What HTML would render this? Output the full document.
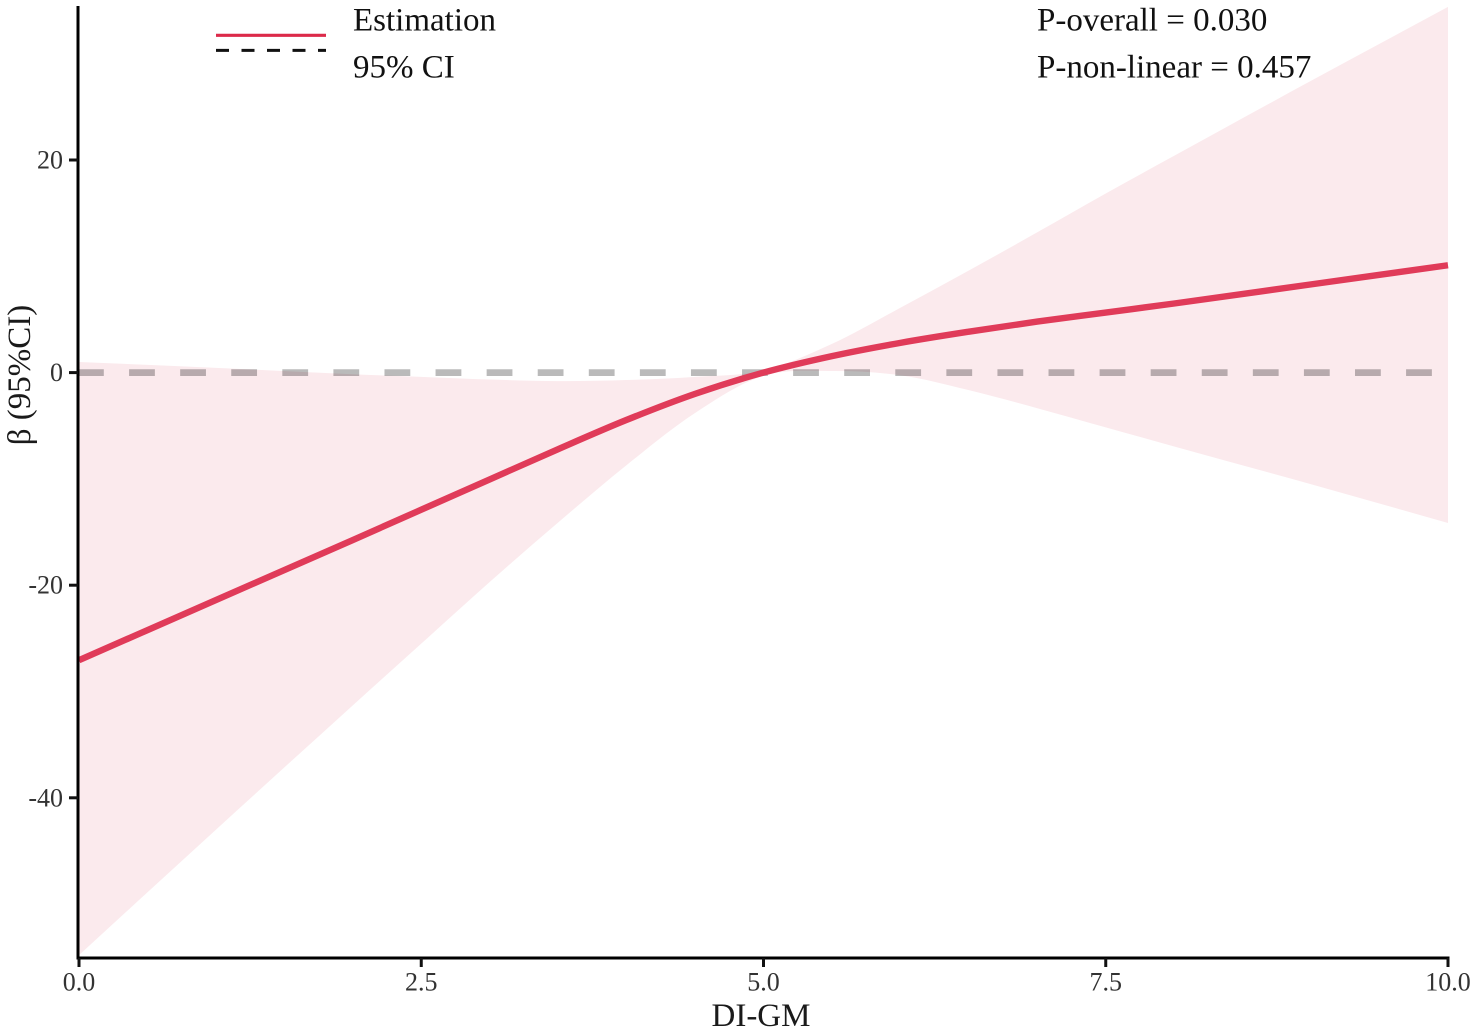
<!DOCTYPE html>
<html lang="en">
<head>
<meta charset="utf-8">
<title>DI-GM restricted cubic spline</title>
<style>
html,body{margin:0;padding:0;background:#fff;}
svg{display:block;font-family:"Liberation Serif",serif;}
</style>
</head>
<body>
<svg id="chart" xmlns="http://www.w3.org/2000/svg" width="1477" height="1033" viewBox="0 0 1477 1033">
  <rect x="0" y="0" width="1477" height="1033" fill="#ffffff"/>
  <g id="marks"></g>
  <g id="axes"></g>
  <text x="761" y="1026" font-size="33" text-anchor="middle" fill="#1a1a1a">DI-GM</text>
  <text transform="translate(30,375) rotate(-90)" font-size="33" text-anchor="middle" fill="#1a1a1a">β (95%CI)</text>
  <g>
    <line x1="216" x2="326" y1="35.3" y2="35.3" stroke="#dc2a4a" stroke-width="3.2"/>
    <line x1="216" x2="326" y1="50.4" y2="50.4" stroke="#111111" stroke-width="3" stroke-dasharray="13 12.5"/>
    <text x="353" y="30.5" font-size="33" fill="#111111">Estimation</text>
    <text x="353" y="77.5" font-size="33" fill="#111111">95% CI</text>
  </g>
  <text x="1037" y="30.5" font-size="33" fill="#111111">P-overall = 0.030</text>
  <text x="1037" y="77.5" font-size="33" fill="#111111">P-non-linear = 0.457</text>
</svg>
<script>
const diGm =       [0, 1, 2, 2.5, 3, 3.5, 4, 4.5, 5, 5.5, 6, 6.5, 7, 7.5, 8, 9, 10];
const estimate =   [-27.05, -21.4, -15.75, -12.9, -10.05, -7.2, -4.45, -2.0, 0, 1.55, 2.8, 3.85, 4.8, 5.65, 6.5, 8.3, 10.1];
const ciUpper =    [1.0, 0.45, -0.15, -0.4, -0.65, -0.8, -0.7, -0.4, 0.2, 2.7, 6.1, 9.6, 13.2, 16.85, 20.4, 27.45, 34.4];
const ciLower =    [-54.8, -43.0, -31.3, -25.5, -19.7, -14.1, -8.7, -3.8, -0.3, 0.15, -0.25, -1.65, -3.35, -5.15, -6.95, -10.5, -14.15];
const xTicks =     [0, 2.5, 5, 7.5, 10];
const xTickLabels = ['0.0', '2.5', '5.0', '7.5', '10.0'];
const yTicks =     [20, 0, -20, -40];
const yTickLabels = ['20', '0', '-20', '-40'];
const referenceValue = 0;

const NS = 'http://www.w3.org/2000/svg';
const xScale = v => 79 + v * 136.9;
const yScale = v => 372.6 - v * 10.63;

function make(tag, attrs, parent) {
  const el = document.createElementNS(NS, tag);
  for (const k in attrs) el.setAttribute(k, attrs[k]);
  parent.appendChild(el);
  return el;
}

// Cubic Hermite through the data points, returned as SVG bezier segments.
function smooth(xs, ys) {
  const n = xs.length, m = [];
  for (let i = 0; i < n; i++) {
    const a = Math.max(0, i - 1), b = Math.min(n - 1, i + 1);
    m.push((ys[b] - ys[a]) / (xs[b] - xs[a]));
  }
  let d = '';
  for (let i = 0; i < n - 1; i++) {
    const h = xs[i + 1] - xs[i];
    d += ' C' + xScale(xs[i] + h / 3).toFixed(2) + ' ' + yScale(ys[i] + m[i] * h / 3).toFixed(2) +
         ' ' + xScale(xs[i + 1] - h / 3).toFixed(2) + ' ' + yScale(ys[i + 1] - m[i + 1] * h / 3).toFixed(2) +
         ' ' + xScale(xs[i + 1]).toFixed(2) + ' ' + yScale(ys[i + 1]).toFixed(2);
  }
  return d;
}

const marks = document.getElementById('marks');
const axes = document.getElementById('axes');

const revX = diGm.slice().reverse();
const revLower = ciLower.slice().reverse();
const bandPath = 'M' + xScale(diGm[0]) + ' ' + yScale(ciUpper[0]) + smooth(diGm, ciUpper) +
  ' L' + xScale(revX[0]) + ' ' + yScale(revLower[0]) +
  smooth(revX, revLower) + ' Z';

const band = make('path', {d: bandPath, fill: '#fbeaed', stroke: 'none'}, marks);



const refLine = make('line', {
  x1: 78, x2: xScale(10), y1: yScale(referenceValue), y2: yScale(referenceValue),
  stroke: '#000000', 'stroke-opacity': 0.27, 'stroke-width': 6.7, 'stroke-dasharray': '25.8 25.28'
}, marks);



const estLine = make('path', {
  d: 'M' + xScale(diGm[0]) + ' ' + yScale(estimate[0]) + smooth(diGm, estimate),
  fill: 'none', stroke: '#e03b59', 'stroke-width': 6.4
}, marks);



const yAxis = make('line', {x1: 78, x2: 78, y1: 6, y2: 959.5, stroke: '#000', 'stroke-width': 3}, axes);



const xAxis = make('line', {x1: 76.5, x2: 1449.5, y1: 958, y2: 958, stroke: '#000', 'stroke-width': 3}, axes);



xTicks.forEach((t, i) => {
  const px = xScale(t);
  const tick = make('line', {x1: px, x2: px, y1: 958, y2: 967, stroke: '#111', 'stroke-width': 3}, axes);
  
  
  const label = make('text', {x: px, y: 990.5, 'font-size': 26, 'text-anchor': 'middle', fill: '#333333'}, axes);
  
  
  label.textContent = xTickLabels[i];
});

yTicks.forEach((t, i) => {
  const py = yScale(t);
  const tick = make('line', {x1: 69, x2: 78, y1: py, y2: py, stroke: '#111', 'stroke-width': 3}, axes);
  
  
  const label = make('text', {x: 63, y: py + 8.5, 'font-size': 26, 'text-anchor': 'end', fill: '#333333'}, axes);
  
  
  label.textContent = yTickLabels[i];
});
</script>
</body>
</html>
